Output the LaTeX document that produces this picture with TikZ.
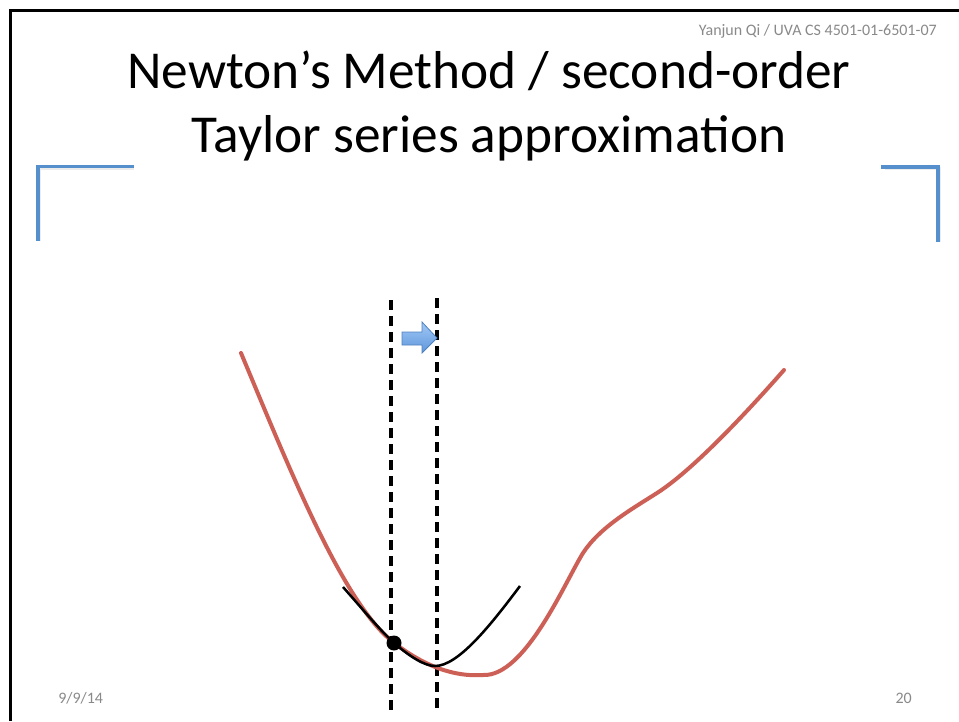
\documentclass[tikz,border=0pt]{standalone}
\usepackage{fontspec}
\setmainfont{Carlito}
\usepackage{tikz}
\usetikzlibrary{calc}
\definecolor{slidegray}{RGB}{137,137,137}
\definecolor{bracketblue}{RGB}{86,144,204}
\definecolor{curvered}{RGB}{205,96,86}
\definecolor{arrowtop}{RGB}{160,200,245}
\definecolor{arrowbot}{RGB}{95,150,220}
\definecolor{arrowedge}{RGB}{79,129,189}
\tikzset{
  smalltext/.style={text=slidegray,inner sep=0pt,font=\fontsize{12}{14}\selectfont},
  titletext/.style={inner sep=0pt,anchor=base,font=\fontsize{40}{48}\selectfont},
  bracket/.style={color=bracketblue,line width=2.6pt,line cap=rect},
  bracketshadow/.style={color=black!30,line width=2.4pt,opacity=0.25},
  stepline/.style={line width=2.6pt,dash pattern={on 7.5pt off 4.5pt}}
}

\begin{document}
\begin{tikzpicture}[x=0.75pt,y=0.75pt,yscale=-1,xscale=1]
\useasboundingbox (0,0) rectangle (959,721);

%Frame
\draw [line width=2.2pt] (10.5,721) -- (10.5,10.5) -- (959,10.5) ;

% Text Node
\node (header) [smalltext,anchor=base east] at (937,35) {Yanjun Qi / UVA CS 4501-01-6501-07};
% Text Node
\node (title1) [titletext] at (489,88) {Newton’s Method / second-order};
% Text Node
\node (title2) [titletext] at (489,152) {Taylor series approximation};

%Corner brackets
\draw [bracketshadow] (39.5,240.5) -- (39.5,168) -- (134,168) ;
\draw [bracket] (38,239) -- (38,166.5) -- (132.5,166.5) ;
\draw [bracketshadow] (884.5,168.5) -- (939.5,168.5) -- (939.5,241.5) ;
\draw [bracket] (883,167) -- (938,167) -- (938,240) ;

%Dashed lines
\coordinate (l1) at (391,300) ;
\coordinate (l2) at (391,715) ;
\coordinate (r1) at (437,298) ;
\coordinate (r2) at (437,712) ;
\draw [stepline] (l1) -- (l2) ;
\draw [stepline] (r1) -- (r2) ;

%Block arrow
\draw [arrowedge,line width=0.6pt,top color=arrowtop,bottom color=arrowbot]
  (402,332) -- (422,332) -- (422,322) -- (437,338) -- (422,353) -- (422,345) -- (402,345) -- cycle ;

%Curve Lines (objective)
\draw [color=curvered,line width=3pt,line cap=round]
  (241,353) .. controls (290,470) and (343,603) .. (393,642)
  .. controls (425,667) and (455,677) .. (483,675)
  .. controls (525,677) and (565,582) .. (583,553)
  .. controls (600,527) and (632,509) .. (657,493)
  .. controls (690,472) and (740,420) .. (784,370) ;

%Curve Lines (quadratic approximation)
\draw [line width=1.9pt]
  (343,587) .. controls (365,612) and (380,630) .. (393,642)
  .. controls (410,657) and (425,666) .. (435,666)
  .. controls (458,666) and (490,626) .. (520,586) ;

%Current point
\fill (394,643) circle [radius=7.5] ;

% Text Node
\node (date) [smalltext,anchor=base west] at (58,703) {9/9/14};
% Text Node
\node (page) [smalltext,anchor=base east] at (912,703) {20};

\end{tikzpicture}
\end{document}
